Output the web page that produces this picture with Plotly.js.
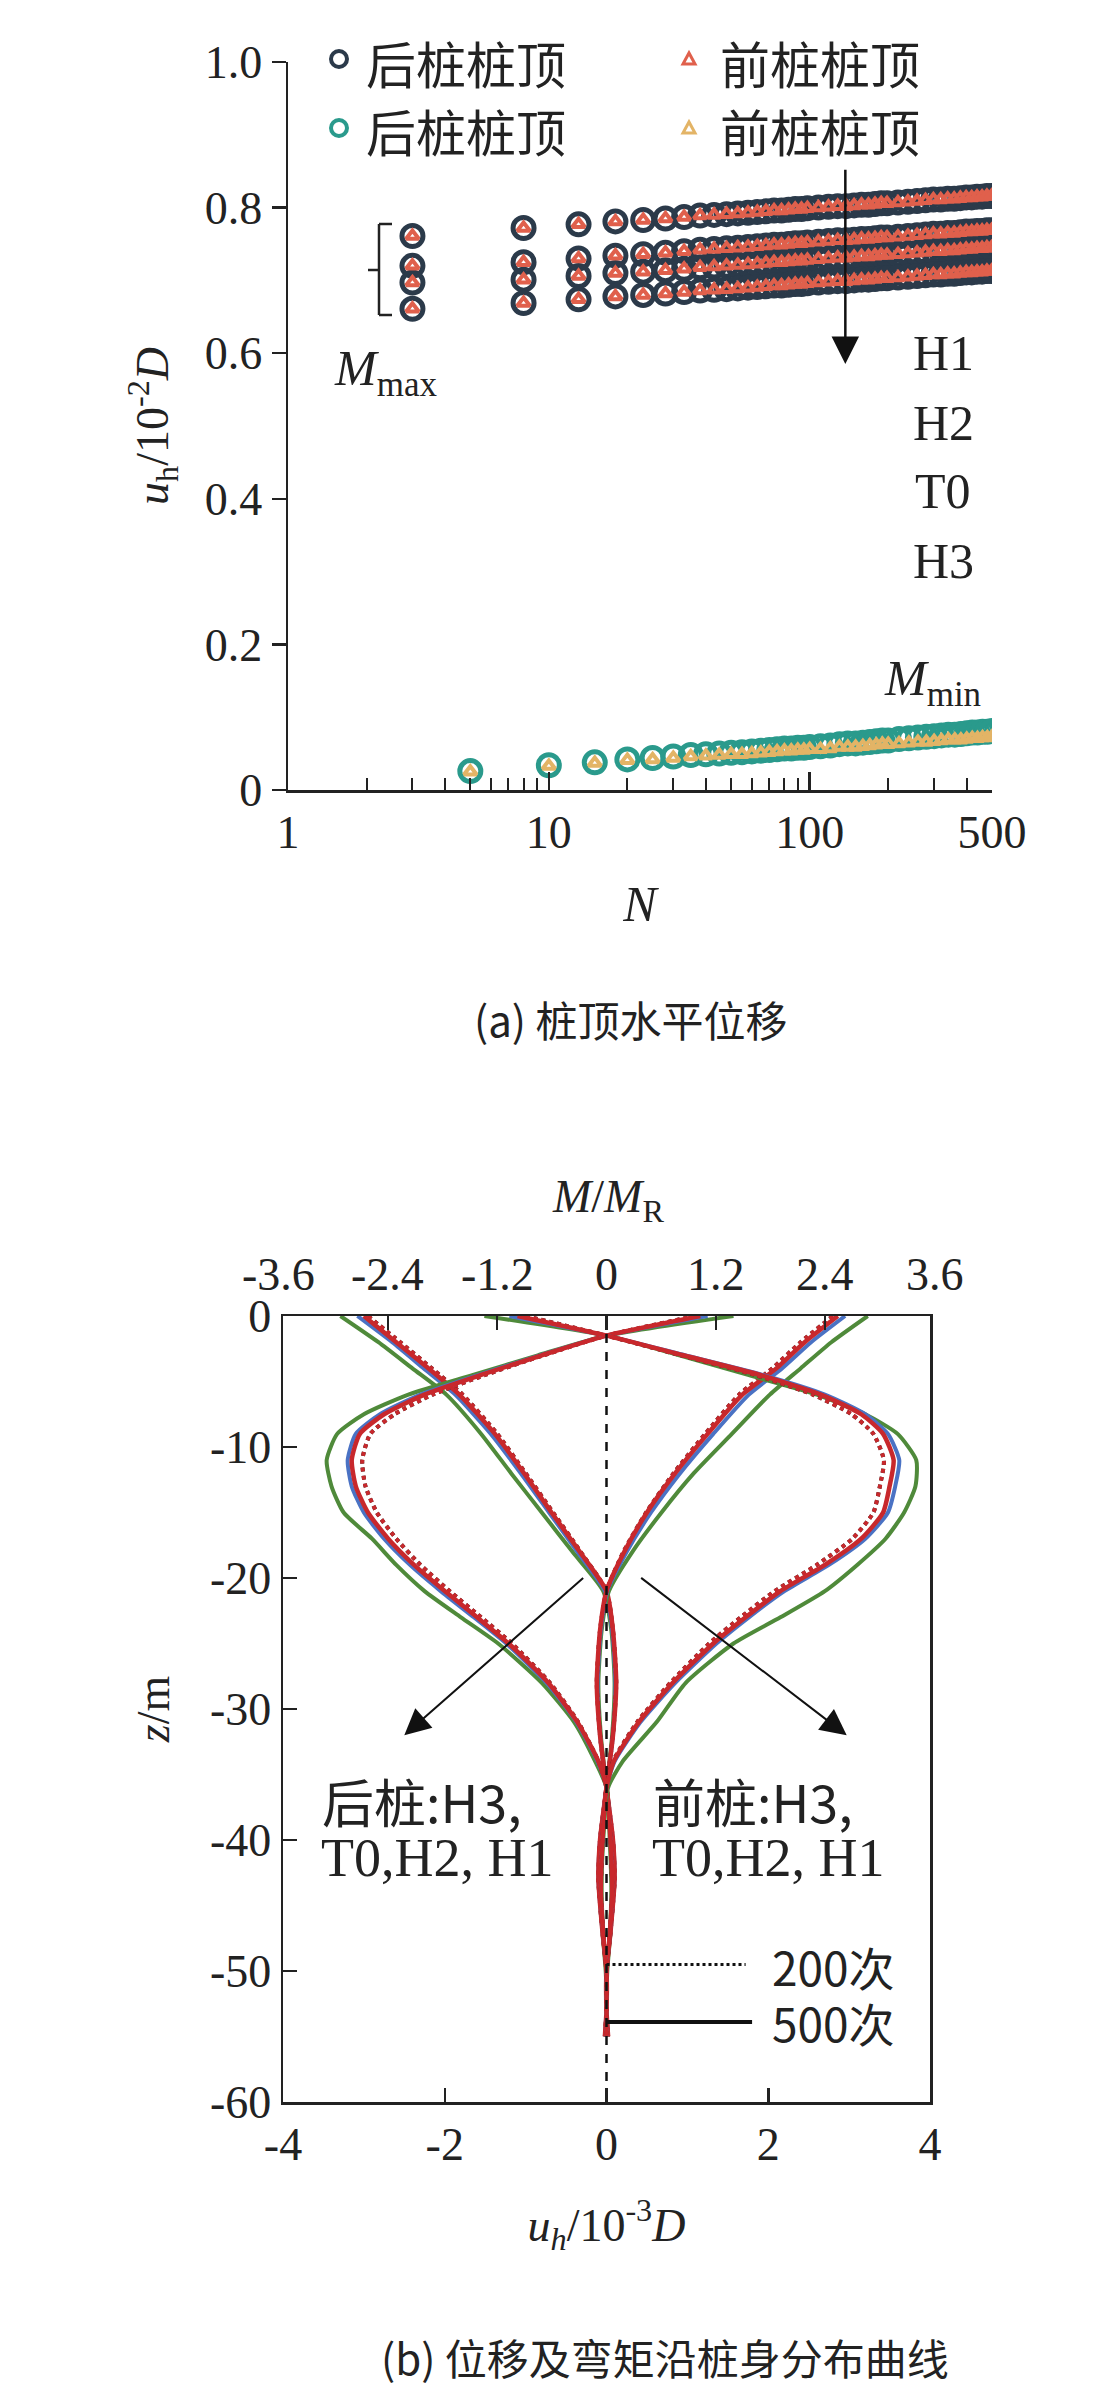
<!DOCTYPE html>
<html><head><meta charset="utf-8">
<script src="https://cdn.plot.ly/plotly-3.0.1.min.js"></script>
<style>body{margin:0;background:#fff}#c{width:1116px;height:2408px}</style>
</head><body><div id="c"></div>
<script>
// ---------- (a) pile-top horizontal displacement ----------
const Nmax=[3,8,13,18,23,28,33,38,43,48,53,58,63,68,73,78,83,88,93,98,108,118,128,138,148,158,168,178,188,198,218,238,258,278,298,318,338,358,378,398,418,438,458,478,498];
const maxH1=[.761,.772,.777,.781,.783,.785,.787,.789,.790,.791,.792,.793,.794,.795,.796,.796,.797,.798,.798,.799,.800,.801,.802,.802,.803,.804,.804,.805,.806,.806,.807,.808,.809,.810,.811,.811,.812,.812,.813,.814,.814,.815,.815,.816,.816];
const maxH2=[.720,.725,.730,.734,.736,.738,.740,.742,.743,.744,.745,.746,.747,.748,.749,.749,.750,.751,.751,.752,.753,.754,.755,.755,.756,.757,.757,.758,.759,.759,.760,.761,.762,.763,.764,.764,.765,.765,.766,.767,.767,.768,.768,.769,.769];
const maxT0=[.697,.701,.706,.710,.712,.714,.716,.718,.719,.720,.721,.722,.723,.724,.725,.725,.726,.727,.727,.728,.729,.730,.731,.731,.732,.733,.733,.734,.735,.735,.736,.737,.738,.739,.740,.740,.741,.741,.742,.743,.743,.744,.744,.745,.745];
const maxH3=[.661,.669,.674,.678,.680,.682,.684,.686,.687,.688,.689,.690,.691,.692,.693,.693,.694,.695,.695,.696,.697,.698,.699,.699,.700,.701,.701,.702,.703,.703,.704,.705,.706,.707,.708,.708,.709,.709,.710,.711,.711,.712,.712,.713,.713];
const Nmin=[5,10,15,20,25,30,35,40,45,50,55,60,65,70,75,80,85,90,95,100,110,120,130,140,150,160,170,180,190,200,220,240,260,280,300,320,340,360,380,400,420,440,460,480,500];
const minBack=[.026,.034,.038,.042,.044,.046,.048,.049,.050,.051,.052,.053,.054,.055,.056,.057,.057,.058,.058,.059,.060,.061,.063,.064,.064,.065,.066,.067,.068,.068,.070,.071,.072,.073,.074,.075,.076,.076,.077,.078,.079,.079,.080,.080,.081];
const minFront=[.025,.033,.037,.041,.042,.044,.046,.047,.048,.049,.049,.050,.051,.052,.053,.054,.054,.055,.055,.056,.056,.057,.059,.059,.059,.060,.061,.062,.063,.063,.064,.065,.066,.066,.067,.068,.069,.069,.069,.070,.071,.071,.072,.072,.073];
const yTicksA=[0,0.2,0.4,0.6,0.8,1.0], yTextA=['0','0.2','0.4','0.6','0.8','1.0'];
const xTicksA=[1,10,100,500];

// ---------- (b) profiles along pile ----------
const zA=[0,-2,-4,-6,-9,-12,-15,-18,-21,-24,-28,-32,-36,-40,-43,-47,-50,-53,-55];
const AL_H1=[-3.29,-2.82,-2.40,-1.98,-1.55,-1.18,-0.80,-0.42,-0.04,0.06,0.10,0.07,0,-0.07,-0.09,-0.05,-0.01,0,-0.02];
const AL_H2=[-3.08,-2.65,-2.26,-1.87,-1.43,-1.06,-0.71,-0.36,-0.02,0.07,0.11,0.08,0,-0.08,-0.10,-0.05,0,0,-0.02];
const AL_H3=[-3.00,-2.60,-2.20,-1.82,-1.38,-1.02,-0.68,-0.33,0,0.08,0.12,0.08,0,-0.08,-0.10,-0.05,0,0,-0.02];
const AL_200=[-2.95,-2.55,-2.16,-1.78,-1.35,-1.00,-0.66,-0.32,0,0.08,0.12,0.08,0,-0.08,-0.10,-0.05,0,0,-0.02];
const AR_H1=[3.23,2.78,2.40,2.02,1.55,1.08,0.68,0.32,0.03,-0.06,-0.10,-0.07,0,0.07,0.09,0.05,0.01,0,0.02];
const AR_H2=[2.95,2.53,2.17,1.76,1.32,0.91,0.55,0.25,0.01,-0.07,-0.11,-0.08,0,0.08,0.10,0.05,0,0,0.02];
const AR_H3=[2.86,2.45,2.10,1.68,1.25,0.85,0.50,0.22,0,-0.08,-0.12,-0.08,0,0.08,0.10,0.05,0,0,0.02];
const AR_200=[2.80,2.40,2.05,1.64,1.22,0.83,0.49,0.21,0,-0.08,-0.12,-0.08,0,0.08,0.10,0.05,0,0,0.02];
const zB=[0,-1.5,-3,-4.5,-6,-7.5,-9,-11,-13,-15,-17,-19,-21,-23,-25,-28,-31,-34,-36,-40,-44,-48,-50,-53,-55];
const BL_H1=[1.57,0,-0.85,-1.65,-2.45,-3.00,-3.33,-3.46,-3.40,-3.25,-2.90,-2.60,-2.25,-1.80,-1.34,-0.80,-0.40,-0.14,0,0.04,0.06,0.03,0,0,0];
const BL_H2=[1.25,0,-0.82,-1.58,-2.30,-2.80,-3.10,-3.20,-3.15,-3.00,-2.75,-2.43,-2.05,-1.64,-1.24,-0.74,-0.37,-0.11,0,0.05,0.07,0.03,0,0,0];
const BL_H3=[1.16,0,-0.80,-1.55,-2.25,-2.75,-3.05,-3.15,-3.10,-2.95,-2.70,-2.38,-2.00,-1.60,-1.21,-0.72,-0.36,-0.10,0,0.05,0.07,0.03,0,0,0];
const BL_200=[1.10,0,-0.78,-1.50,-2.15,-2.62,-2.92,-3.02,-2.98,-2.84,-2.60,-2.30,-1.94,-1.55,-1.17,-0.70,-0.35,-0.10,0,0.05,0.07,0.03,0,0,0];
const BR_H1=[-1.51,0,0.90,1.75,2.60,3.20,3.60,3.83,3.82,3.68,3.45,3.10,2.70,2.15,1.57,0.98,0.62,0.20,0.02,-0.04,-0.06,-0.03,0,0,0];
const BR_H2=[-1.20,0,0.97,1.93,2.70,3.20,3.48,3.62,3.57,3.48,3.20,2.75,2.20,1.76,1.36,0.85,0.42,0.10,0,-0.05,-0.07,-0.03,0,0,0];
const BR_H3=[-1.10,0,0.95,1.90,2.65,3.15,3.42,3.55,3.50,3.42,3.15,2.70,2.15,1.72,1.32,0.82,0.40,0.09,0,-0.05,-0.07,-0.03,0,0,0];
const BR_200=[-1.00,0,0.92,1.84,2.55,3.03,3.30,3.43,3.38,3.30,3.04,2.60,2.08,1.66,1.27,0.79,0.38,0.08,0,-0.05,-0.07,-0.03,0,0,0];
const xTicksB=[-4,-2,0,2,4], yTicksB=[0,-10,-20,-30,-40,-50,-60];
const topTicks=[-3.6,-2.4,-1.2,0,1.2,2.4,3.6];

const W=1116,H=2408;
const px=x=>x/W, py=y=>1-y/H;
const SERIF='Liberation Serif';
const CJK='Noto Sans CJK SC';
const DARK='#2b3a4a', RED='#e0604c', TEAL='#2a9a8c', GOLD='#e3b466';
const lbl=v=>String(v);
const TOPR=3.55, BX0=283, BX1=930;

const traces=[];
function circ(x,y,c){traces.push({x,y,xaxis:'x',yaxis:'y',mode:'markers',type:'scatter',
  marker:{symbol:'circle-open',size:21,color:c,line:{width:5,color:c}},hoverinfo:'skip',showlegend:false});}
function tri(x,y,c){traces.push({x,y,xaxis:'x',yaxis:'y',mode:'markers',type:'scatter',
  marker:{symbol:'triangle-up-open',size:11,color:c,line:{width:4,color:c}},hoverinfo:'skip',showlegend:false});}
[maxH1,maxH2,maxT0,maxH3].forEach(v=>circ(Nmax,v,DARK));
circ(Nmin,minBack,TEAL);
[maxH1,maxH2,maxT0,maxH3].forEach(v=>tri(Nmax,v,RED));
tri(Nmin,minFront,GOLD);

const GREEN='#4f8a3a', BLUE='#4a72c4', CRED='#c8282c';
function ln(x,y,c,dash,w){traces.push({x,y,xaxis:'x2',yaxis:'y2',mode:'lines',type:'scatter',
  line:{color:c,width:w||4,dash:dash||'solid',shape:'spline',smoothing:0.6},hoverinfo:'skip',showlegend:false});}
[[zA,AL_H1,AL_H2,AL_H3,AL_200],[zA,AR_H1,AR_H2,AR_H3,AR_200],[zB,BL_H1,BL_H2,BL_H3,BL_200],[zB,BR_H1,BR_H2,BR_H3,BR_200]].forEach(f=>{
  ln(f[1],f[0],GREEN);ln(f[2],f[0],BLUE);
  ln(f[4],f[0],'#222','dot',4);ln(f[4],f[0],CRED,'dot',4);
  ln(f[3],f[0],CRED,'solid',4.5);
});
traces.push({x:[0,0],y:[0,-60],xaxis:'x2',yaxis:'y2',mode:'lines',type:'scatter',line:{color:'#111',width:2.5,dash:'dash'},hoverinfo:'skip',showlegend:false});
traces.push({x:[0],y:[0],xaxis:'x3',yaxis:'y2',mode:'markers',marker:{opacity:0},hoverinfo:'skip',showlegend:false,type:'scatter'});

const tf={family:SERIF,size:46,color:'#222'};
const layout={width:W,height:H,margin:{l:0,r:0,t:0,b:0},paper_bgcolor:'#fff',plot_bgcolor:'rgba(0,0,0,0)',showlegend:false,
 xaxis:{domain:[px(288),px(992)],anchor:'y',type:'log',range:[0,Math.log10(500)],tickmode:'array',tickvals:xTicksA,ticktext:xTicksA.map(String),
   ticks:'inside',ticklen:18,tickwidth:2.5,tickcolor:'#222',showline:true,linecolor:'#222',linewidth:2.5,showgrid:false,zeroline:false,tickfont:tf,
   minor:{tickmode:'array',tickvals:[2,3,4,5,6,7,8,9,20,30,40,50,60,70,80,90,200,300,400],ticks:'inside',ticklen:12,tickwidth:2,tickcolor:'#222',showgrid:false},
   title:{text:'<i>N</i>',font:{family:SERIF,size:50,color:'#222'},standoff:30}},
 yaxis:{domain:[py(790),py(62)],anchor:'x',range:[0,1.0],tickmode:'array',tickvals:yTicksA,ticktext:yTextA,ticks:'outside',ticklen:14,tickwidth:2.5,tickcolor:'#222',
   showline:true,linecolor:'#222',linewidth:2.5,showgrid:false,zeroline:false,tickfont:tf,
   title:{text:'<i>u</i><sub>h</sub>/10<sup>-2</sup><i>D</i>',font:{family:SERIF,size:46,color:'#222'},standoff:22}},
 xaxis2:{domain:[px(BX0),px(BX1)],anchor:'y2',range:[-4,4],tickmode:'array',tickvals:xTicksB,ticktext:xTicksB.map(lbl),ticks:'inside',ticklen:14,tickwidth:2.5,tickcolor:'#222',
   showline:true,linecolor:'#222',linewidth:2.5,mirror:true,showgrid:false,zeroline:false,tickfont:tf,
   title:{text:'<i>u<sub>h</sub></i>/10<sup>-3</sup><i>D</i>',font:{family:SERIF,size:46,color:'#222'},standoff:40}},
 xaxis3:{overlaying:'x2',side:'top',anchor:'y2',range:[-TOPR,TOPR],tickmode:'array',tickvals:topTicks,ticks:'inside',ticklen:14,tickwidth:2.5,tickcolor:'#222',
   showticklabels:false,showline:false,showgrid:false,zeroline:false},
 yaxis2:{domain:[py(2102),py(1316)],anchor:'x2',range:[-60,0],tickmode:'array',tickvals:yTicksB,ticktext:yTicksB.map(lbl),ticks:'inside',ticklen:14,tickwidth:2.5,tickcolor:'#222',
   showline:true,linecolor:'#222',linewidth:2.5,mirror:true,showgrid:false,zeroline:false,tickfont:tf,
   title:{text:'<i>z</i>/m',font:{family:SERIF,size:46,color:'#222'},standoff:26}},
 annotations:[],shapes:[]};

const A=layout.annotations, S=layout.shapes;
function txt(x,y,t,size,fam,anchor){A.push({xref:'paper',yref:'paper',x:px(x),y:py(y),text:t,showarrow:false,xanchor:anchor||'left',yanchor:'middle',font:{family:fam||SERIF,size:size||48,color:'#222'}});}
txt(364,62,'后桩桩顶',50,CJK);txt(364,130,'后桩桩顶',50,CJK);
txt(718,62,'前桩桩顶',50,CJK);txt(718,130,'前桩桩顶',50,CJK);
function pc(x,y,c){S.push({type:'circle',xref:'paper',yref:'paper',xsizemode:'pixel',ysizemode:'pixel',xanchor:px(x),yanchor:py(y),x0:-8,x1:8,y0:-8,y1:8,line:{color:c,width:4}});}
function pt(x,y,c){S.push({type:'path',xref:'paper',yref:'paper',xsizemode:'pixel',ysizemode:'pixel',xanchor:px(x),yanchor:py(y),path:'M-6,-5 L6,-5 L0,6 Z',line:{color:c,width:3}});}
pc(339,59,DARK);pc(339,128,TEAL);pt(689,59,RED);pt(689,128,GOLD);
txt(943,353,'H1',50,SERIF,'center');txt(943,423,'H2',50,SERIF,'center');txt(943,491,'T0',50,SERIF,'center');txt(943,561,'H3',50,SERIF,'center');
A.push({xref:'x',yref:'y',x:Math.log10(137),y:0.585,ax:Math.log10(137),ay:0.854,axref:'x',ayref:'y',showarrow:true,arrowhead:2,arrowsize:2.2,arrowwidth:2.5,arrowcolor:'#111',text:''});
txt(385,372,'<i>M</i><sub>max</sub>',50,SERIF,'center');
txt(932,682,'<i>M</i><sub>min</sub>',50,SERIF,'center');
[[379,224,379,315],[379,224,392,224],[379,315,392,315],[368,270,379,270]].forEach(l=>S.push({type:'line',xref:'paper',yref:'paper',x0:px(l[0]),y0:py(l[1]),x1:px(l[2]),y1:py(l[3]),line:{color:'#222',width:2.5}}));
txt(630,1018,'(a) 桩顶水平位移',42,CJK,'center');
// (b) top axis labels, placed in paper space so the edge labels are not clipped
const cx=(BX0+BX1)/2, hw=(BX1-BX0)/2;
topTicks.forEach(v=>txt(cx+v/TOPR*hw,1274,lbl(v),46,SERIF,'center'));
txt(608,1200,'<i>M</i>/<i>M</i><sub>R</sub>',46,SERIF,'center');
A.push({xref:'x2',yref:'y2',x:-2.5,y:-32,ax:-0.27,ay:-19.9,axref:'x2',ayref:'y2',showarrow:true,arrowhead:2,arrowsize:2.6,arrowwidth:2,arrowcolor:'#111',text:''});
A.push({xref:'x2',yref:'y2',x:2.97,y:-32,ax:0.41,ay:-19.9,axref:'x2',ayref:'y2',showarrow:true,arrowhead:2,arrowsize:2.6,arrowwidth:2,arrowcolor:'#111',text:''});
txt(320,1800,'后桩:H3,',52,CJK);txt(319,1858,'T0,H2, H1',54,SERIF);
txt(651,1800,'前桩:H3,',52,CJK);txt(650,1858,'T0,H2, H1',54,SERIF);
S.push({type:'line',xref:'x2',yref:'y2',x0:0,x1:1.72,y0:-49.5,y1:-49.5,line:{color:'#111',width:3,dash:'dot'}});
S.push({type:'line',xref:'x2',yref:'y2',x0:0,x1:1.80,y0:-53.9,y1:-53.9,line:{color:'#111',width:4}});
txt(770,1966,'200次',46,CJK);txt(770,2022,'500次',46,CJK);
txt(665,2356,'(b) 位移及弯矩沿桩身分布曲线',42,CJK,'center');

Plotly.newPlot('c',traces,layout,{staticPlot:true});
</script></body></html>
